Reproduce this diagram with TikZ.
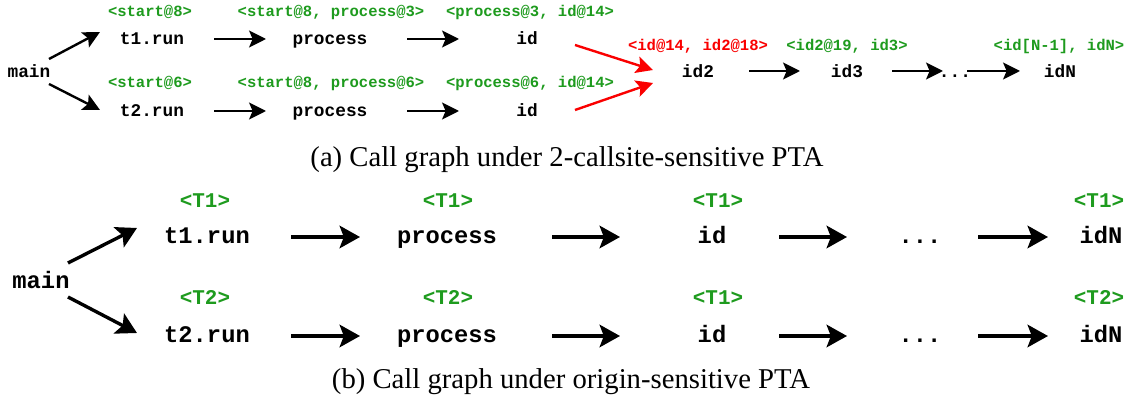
\documentclass[tikz,border=0pt]{standalone}
\usepackage{fontspec}
\setmainfont{Liberation Serif}
\setmonofont{Liberation Mono}
\usetikzlibrary{arrows.meta,calc}
\definecolor{lblgreen}{RGB}{30,155,30}
\definecolor{lblred}{RGB}{250,0,0}
\tikzset{
  fnA/.style={inner sep=0pt, anchor=base, font=\ttfamily\bfseries\fontsize{12.66}{14}\selectfont},
  lbA/.style={inner sep=0pt, anchor=base, text=lblgreen, font=\ttfamily\bfseries\fontsize{11.06}{13}\selectfont},
  lbR/.style={lbA, text=lblred},
  fnB/.style={inner sep=0pt, anchor=base, font=\ttfamily\bfseries\fontsize{16.9}{19}\selectfont},
  lbB/.style={inner sep=0pt, anchor=base, text=lblgreen, font=\ttfamily\bfseries\fontsize{14.9}{17}\selectfont},
  captxt/.style={inner sep=0pt, anchor=base, font=\fontsize{20.4}{24}\selectfont},
  arrA/.style={line width=1.7pt, -{Stealth[length=12pt,width=12pt,inset=2.5pt]}},
  arrR/.style={arrA, draw=lblred},
  arrB/.style={line width=2.4pt, -{Stealth[length=14.5pt,width=16pt,inset=3pt]}}
}
\begin{document}
\begin{tikzpicture}[x=0.025cm, y=-0.025cm]
\path[use as bounding box, fill=white] (0,0) rectangle (1133,406);

% ---------- (a) ----------
\node[fnA] (mainA) at (29,78) {main};
\node[fnA] (t1a) at (152,45) {t1.run};
\node[fnA] (t2a) at (152,117) {t2.run};
\node[fnA] (p1a) at (330,45) {process};
\node[fnA] (p2a) at (330,117) {process};
\node[fnA] (i1a) at (527,45) {id};
\node[fnA] (i2a) at (527,117) {id};
\node[fnA] (id2a) at (698,78) {id2};
\node[fnA] (id3a) at (847,78) {id3};
\node[fnA] (dotsa) at (955,78) {...};
\node[fnA] (idNa) at (1060,78) {idN};

\node[lbA] (g1a) at (150,17) {<start@8>};
\node[lbA] (g2a) at (331,17) {<start@8, process@3>};
\node[lbA] (g3a) at (530,17) {<process@3, id@14>};
\node[lbA] (g4a) at (150,88) {<start@6>};
\node[lbA] (g5a) at (331,88) {<start@8, process@6>};
\node[lbA] (g6a) at (530,88) {<process@6, id@14>};
\node[lbR] (r1a) at (698,51) {<id@14, id2@18>};
\node[lbA] (g7a) at (847,51) {<id2@19, id3>};
\node[lbA] (g8a) at (1059,51) {<id[N-1], idN>};

\draw[arrA] ($(mainA.base)+(20,-19)$) -- ($(t1a.base)+(-52,-13)$);
\draw[arrA] ($(mainA.base)+(20,6)$) -- ($(t2a.base)+(-52,-7)$);
\draw[arrA] ($(t1a.base)+(62,-6)$) -- ($(p1a.base)+(-64,-6)$);
\draw[arrA] ($(t2a.base)+(62,-6)$) -- ($(p2a.base)+(-64,-6)$);
\draw[arrA] ($(p1a.base)+(77,-6)$) -- ($(i1a.base)+(-68,-6)$);
\draw[arrA] ($(p2a.base)+(77,-6)$) -- ($(i2a.base)+(-68,-6)$);
\draw[arrR] ($(i1a.base)+(48,0)$) -- ($(id2a.base)+(-45,-8)$);
\draw[arrR] ($(i2a.base)+(48,-7)$) -- ($(id2a.base)+(-45,5)$);
\draw[arrA] ($(id2a.base)+(51,-7)$) -- ($(id3a.base)+(-47,-7)$);
\draw[arrA] ($(id3a.base)+(45,-7)$) -- ($(dotsa.base)+(-12,-7)$);
\draw[arrA] ($(dotsa.base)+(12,-7)$) -- ($(idNa.base)+(-40,-7)$);

\node[captxt] (capA) at (567,167) {(a) Call graph under 2-callsite-sensitive PTA};

% ---------- (b) ----------
\node[fnB] (mainB) at (41,289) {main};
\node[fnB] (t1b) at (207,244) {t1.run};
\node[fnB] (t2b) at (207,343) {t2.run};
\node[fnB] (p1b) at (447,244) {process};
\node[fnB] (p2b) at (447,343) {process};
\node[fnB] (i1b) at (712,244) {id};
\node[fnB] (i2b) at (712,343) {id};
\node[fnB] (d1b) at (920,244) {...};
\node[fnB] (d2b) at (920,343) {...};
\node[fnB] (n1b) at (1101,244) {idN};
\node[fnB] (n2b) at (1101,343) {idN};

\node[lbB] (h1b) at (205,208) {<T1>};
\node[lbB] (h2b) at (448,208) {<T1>};
\node[lbB] (h3b) at (718,208) {<T1>};
\node[lbB] (h4b) at (1099,208) {<T1>};
\node[lbB] (h5b) at (205,305) {<T2>};
\node[lbB] (h6b) at (448,305) {<T2>};
\node[lbB] (h7b) at (718,305) {<T1>};
\node[lbB] (h8b) at (1099,305) {<T2>};

\draw[arrB] ($(mainB.base)+(27,-26)$) -- ($(t1b.base)+(-70,-16)$);
\draw[arrB] ($(mainB.base)+(27,8)$) -- ($(t2b.base)+(-70,-10)$);
\draw[arrB] ($(t1b.base)+(84,-7)$) -- ($(p1b.base)+(-87,-7)$);
\draw[arrB] ($(t2b.base)+(84,-7)$) -- ($(p2b.base)+(-87,-7)$);
\draw[arrB] ($(p1b.base)+(105,-7)$) -- ($(i1b.base)+(-92,-7)$);
\draw[arrB] ($(p2b.base)+(105,-7)$) -- ($(i2b.base)+(-92,-7)$);
\draw[arrB] ($(i1b.base)+(67,-7)$) -- ($(d1b.base)+(-73,-7)$);
\draw[arrB] ($(i2b.base)+(67,-7)$) -- ($(d2b.base)+(-73,-7)$);
\draw[arrB] ($(d1b.base)+(58,-7)$) -- ($(n1b.base)+(-53,-7)$);
\draw[arrB] ($(d2b.base)+(58,-7)$) -- ($(n2b.base)+(-53,-7)$);

\node[captxt] (capB) at (571,389) {(b) Call graph under origin-sensitive PTA};
\end{tikzpicture}
\end{document}
